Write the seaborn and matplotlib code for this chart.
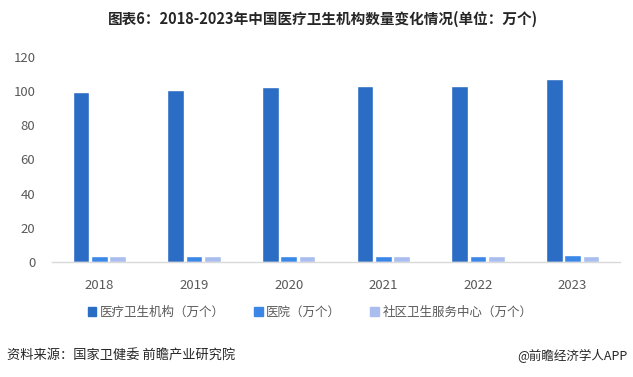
import pandas as pd
import matplotlib
matplotlib.use('Agg')
import matplotlib.pyplot as plt
import seaborn as sns

# Data (unit: 10k)
years = ['2018', '2019', '2020', '2021', '2022', '2023']
medical_inst = [99.7, 100.8, 102.3, 103.1, 103.3, 107.1]
hospitals = [3.3, 3.4, 3.5, 3.7, 3.7, 3.9]
community_centers = [3.5, 3.5, 3.5, 3.6, 3.6, 3.7]

series_names = ['医疗卫生机构（万个）', '医院（万个）', '社区卫生服务中心（万个）']
palette = ['#2B6CC4', '#3A87E8', '#A9BEEF']

# Build long-form table
rows = []
for name, vals in zip(series_names, [medical_inst, hospitals, community_centers]):
    for y, v in zip(years, vals):
        rows.append({'year': y, 'series': name, 'value': v})
df = pd.DataFrame(rows)

sns.set_theme(style='white')
plt.rcParams['font.family'] = ['Noto Sans CJK SC', 'DejaVu Sans']

fig = plt.figure(figsize=(6.33, 3.77), dpi=100)
ax = fig.add_axes([52 / 633, 1 - 262 / 377, 568 / 633, 205 / 377])

sns.barplot(data=df, x='year', y='value', hue='series', palette=palette,
            width=0.58, gap=0.1, ax=ax, legend=False, saturation=1)

ax.set_ylim(0, 120)
ax.set_yticks(range(0, 121, 20))
ax.set_xlim(-0.5, 5.5)
ax.set_xlabel('')
ax.set_ylabel('')
for s in ['top', 'right', 'left']:
    ax.spines[s].set_visible(False)
ax.spines['bottom'].set_color('#D9D9D9')
ax.spines['bottom'].set_linewidth(1)
ax.tick_params(axis='both', length=0, labelsize=9.5, colors='#595959')
ax.tick_params(axis='x', pad=12)
ax.tick_params(axis='y', pad=12)

# Legend
handles = [plt.Rectangle((0, 0), 1, 1, color=c) for c in palette]
fig.legend(handles, series_names, loc='center', bbox_to_anchor=(310 / 633, 1 - 312 / 377),
           ncol=3, frameon=False, fontsize=9, labelcolor='#595959',
           handlelength=0.7, handleheight=0.7, handletextpad=0.3, columnspacing=2.3)

fig.text(323 / 633, 1 - 19 / 377, '图表6：2018-2023年中国医疗卫生机构数量变化情况(单位：万个)',
         ha='center', va='center', fontsize=10.5, fontweight='bold', color='#262626')
fig.text(7 / 633, 1 - 356 / 377, '资料来源：国家卫健委 前瞻产业研究院',
         ha='left', va='center', fontsize=9.5, color='#262626')
fig.text(627 / 633, 1 - 356 / 377, '@前瞻经济学人APP',
         ha='right', va='center', fontsize=9, color='#262626')

fig.savefig('out.png', dpi=100)
